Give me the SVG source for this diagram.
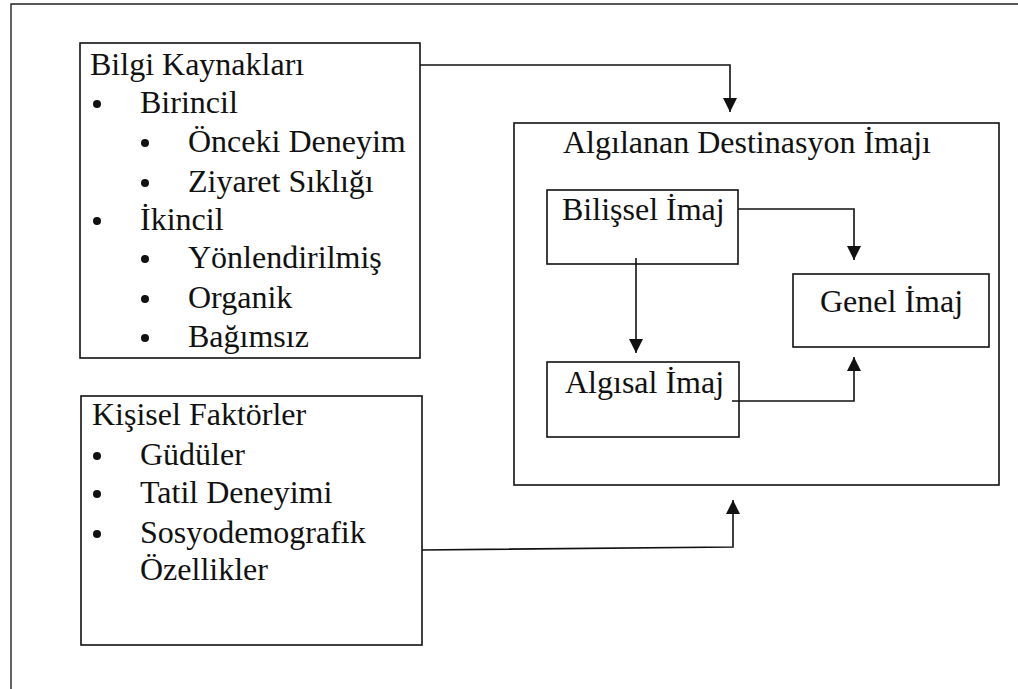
<svg xmlns="http://www.w3.org/2000/svg" width="1018" height="689" viewBox="0 0 1018 689">
<defs>
<style>
.box{fill:#fff;stroke:#111;stroke-width:1.6}
.t{font-family:"Liberation Serif","Times New Roman",serif;font-size:32px;fill:#111}
.c{fill:none;stroke:#111;stroke-width:1.6}
.b{fill:#111}
</style>
<marker id="ah" viewBox="0 0 10 10" refX="10" refY="5" markerWidth="14" markerHeight="14" markerUnits="userSpaceOnUse" orient="auto">
<path d="M0,0 L10,5 L0,10 Z" fill="#111"/>
</marker>
</defs>
<rect width="1018" height="689" fill="#fff"/>
<polyline points="11,689 11,4 1018,4" fill="none" stroke="#222" stroke-width="1.4"/>

<g id="bilgi-kaynaklari">
<rect class="box" x="80" y="43" width="340" height="315"/>
<text class="t" x="90" y="75">Bilgi Kaynakları</text>
<circle class="b" cx="97" cy="104" r="4"/><text class="t" x="140" y="113">Birincil</text>
<circle class="b" cx="145" cy="143" r="4"/><text class="t" x="188" y="152">Önceki Deneyim</text>
<circle class="b" cx="145" cy="183" r="4"/><text class="t" x="188" y="192">Ziyaret Sıklığı</text>
<circle class="b" cx="97" cy="221" r="4"/><text class="t" x="140" y="230">İkincil</text>
<circle class="b" cx="145" cy="259" r="4"/><text class="t" x="188" y="268">Yönlendirilmiş</text>
<circle class="b" cx="145" cy="299" r="4"/><text class="t" x="188" y="308">Organik</text>
<circle class="b" cx="145" cy="338" r="4"/><text class="t" x="188" y="347">Bağımsız</text>
</g>

<g id="kisisel-faktorler">
<rect class="box" x="81" y="396" width="341" height="249"/>
<text class="t" x="92" y="425">Kişisel Faktörler</text>
<circle class="b" cx="97" cy="456" r="4"/><text class="t" x="140" y="465">Güdüler</text>
<circle class="b" cx="97" cy="494" r="4"/><text class="t" x="140" y="503">Tatil Deneyimi</text>
<circle class="b" cx="97" cy="534" r="4"/><text class="t" x="140" y="543">Sosyodemografik</text>
<text class="t" x="140" y="580">Özellikler</text>
</g>

<g id="algilanan-destinasyon-imaji">
<rect class="box" x="514" y="123" width="485" height="362"/>
<text class="t" x="563" y="153">Algılanan Destinasyon İmajı</text>
</g>

<g id="bilissel-imaj">
<rect class="box" x="547" y="190" width="191" height="74"/>
<text class="t" x="562" y="220">Bilişsel İmaj</text>
</g>

<g id="algisal-imaj">
<rect class="box" x="547" y="362" width="192" height="75"/>
<text class="t" x="565" y="393">Algısal İmaj</text>
</g>

<g id="genel-imaj">
<rect class="box" x="793" y="274" width="196" height="73"/>
<text class="t" x="820" y="312">Genel İmaj</text>
</g>

<g id="connectors">
<polyline class="c" points="420,65 730,65 730,112" marker-end="url(#ah)"/>
<polyline class="c" points="738,209 854,209 854,260" marker-end="url(#ah)"/>
<polyline class="c" points="636,258 636,353" marker-end="url(#ah)"/>
<polyline class="c" points="732,401 854,401 854,357" marker-end="url(#ah)"/>
<polyline class="c" points="422,550 733,547 733,500" marker-end="url(#ah)"/>
</g>
</svg>
